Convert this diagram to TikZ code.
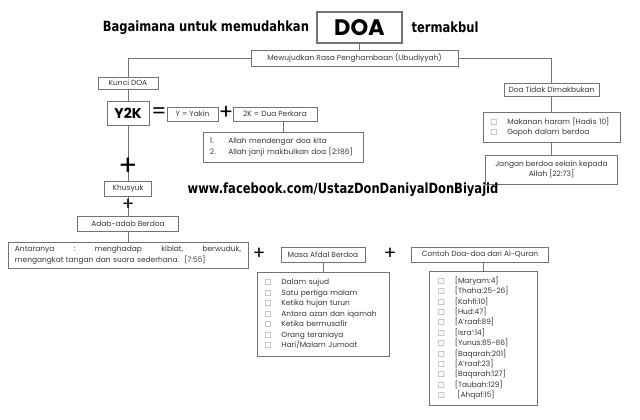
\documentclass[tikz,border=0pt]{standalone}
\usepackage{fontspec}
\setmainfont{Poppins}
\newfontfamily\headfont{DejaVu Sans}[FakeStretch=0.82]
\newfontfamily\boxfont{DejaVu Sans}
\usetikzlibrary{positioning}

\definecolor{linegray}{gray}{0.45}
\definecolor{textgray}{gray}{0.22}
\newcommand{\chk}{{\boxfont\color{gray}\char"25A1}\hspace{7pt}}
\newcommand{\nom}[1]{\makebox[13pt][l]{#1}}

\begin{document}
\begin{tikzpicture}[x=0.025cm,y=-0.025cm,font=\fontsize{5.3}{7.4}\selectfont,text=textgray]
\tikzstyle{box}=[draw=linegray,line width=0.5pt,inner sep=0pt,align=center]
\tikzstyle{link}=[draw=linegray,line width=0.5pt]
\tikzstyle{sign}=[inner sep=0pt,text=black]
\tikzstyle{head}=[inner sep=0pt,text=black,font=\headfont\bfseries\fontsize{10}{12}\selectfont]

\fill[white] (0,0) rectangle (640,420);
\useasboundingbox (0,0) rectangle (640,420);

% title row
\node[box,line width=0.8pt,minimum width=2.125cm,minimum height=0.775cm,text=black,
  font=\bfseries\fontsize{16}{16}\selectfont] (doa) at (359.5,27.5) {DOA};
\node[head,left=0.18cm of doa] (judul) {Bagaimana untuk memudahkan};
\node[head,right=0.22cm of doa] (makbul) {termakbul};

\node[box,minimum width=5.175cm,minimum height=0.4cm] (ubud) at (354.5,58) {Mewujudkan Rasa Penghambaan (Ubudiyyah)};
\node[box,minimum width=1.5cm,minimum height=0.3cm] (kunci) at (128,83) {Kunci DOA};
\node[box,minimum width=2.375cm,minimum height=0.325cm] (tidak) at (551.5,89.5) {Doa Tidak Dimakbukan};

% Y2K row
\node[box,minimum width=1.05cm,minimum height=0.6cm,text=black,
  font=\bfseries\fontsize{10}{10}\selectfont] (ytwok) at (128,113) {Y2K};
\node[sign,font=\fontsize{15}{15}\selectfont] (sama) at (159,113) {=};
\node[box,minimum width=1.275cm,minimum height=0.35cm] (yakin) at (192.5,114) {Y = Yakin};
\node[sign,font=\fontsize{15}{15}\selectfont] (tambah1) at (226,113) {+};
\node[box,minimum width=2.1cm,minimum height=0.35cm] (duak) at (275,114) {2K = Dua Perkara};
\node[box,minimum width=4cm,minimum height=0.75cm,text width=3.65cm,align=left] (duasenarai) at (283,147)
  {\nom{1.}Allah mendengar doa kita\\\nom{2.}Allah janji makbulkan doa [2:186]};

% right branch
\node[box,minimum width=3.425cm,minimum height=0.75cm,text width=3.05cm,align=left] (haram) at (551.5,127)
  {\chk Makanan haram [Hadis 10]\\\chk Gopoh dalam berdoa};
\node[box,minimum width=3.3cm,minimum height=0.725cm] (jangan) at (551.5,169.5)
  {Jangan berdoa selain kepada\\Allah [22:73]};

% left spine
\node[box,minimum width=1.175cm,minimum height=0.375cm] (khusyuk) at (128,188.5) {Khusyuk};
\node[head] (url) at (343,190) {www.facebook.com/UstazDonDaniyalDonBiyajid};
\node[box,minimum width=2.525cm,minimum height=0.375cm] (adab) at (128,223.5) {Adab-adab Berdoa};
\node[box,minimum width=6cm,minimum height=0.65cm,text width=5.65cm,align=left] (antara) at (128,255)
  {Antaranya\hfill:\hfill menghadap\hfill kiblat,\hfill berwuduk,\\mengangkat tangan dan suara sederhana.\ \ [7:55]};

% bottom row
\node[box,minimum width=2.1cm,minimum height=0.375cm] (afdal) at (323,254.5) {Masa Afdal Berdoa};
\node[box,minimum width=3.425cm,minimum height=0.375cm] (contoh) at (480,254.5) {Contoh Doa-doa dari Al-Quran};
\node[box,minimum width=3.3cm,minimum height=2.1cm,text width=2.92cm,align=left] (afdalsenarai) at (323,314)
  {\chk Dalam sujud\\\chk Satu pertiga malam\\\chk Ketika hujan turun\\\chk Antara azan dan iqamah\\
   \chk Ketika bermusafir\\\chk Orang teraniaya\\\chk Hari/Malam Jumoat};
\node[box,minimum width=2.7cm,minimum height=3.35cm,text width=2.25cm,align=left] (contohsenarai) at (483,338)
  {\chk [Maryam:4]\\\chk [Thaha:25-26]\\\chk [Kahfi:10]\\\chk [Hud:47]\\\chk [A'raaf:89]\\\chk [Isra':14]\\
   \chk [Yunus:85-86]\\\chk [Baqarah:201]\\\chk [A'raaf:23]\\\chk [Baqarah:127]\\\chk [Taubah:129]\\\chk\ [Ahqaf:15]};

% connectors
\draw[link] (doa.south) -- (doa.south |- ubud.north);
\draw[link] (ubud.west) -| (kunci.north);
\draw[link] (ubud.east) -| (tidak.north);
\draw[link] (kunci.south) -- (ytwok.north);
\draw[link] (ytwok.south) -- (khusyuk.north);
\draw[link] (khusyuk.south) -- (adab.north);
\draw[link] (adab.south) -- (antara.north);
\draw[link] (duasenarai.north) -- (duasenarai.north |- duak.south);
\draw[link] (tidak.south) -- (haram.north);
\draw[link] (haram.south) -- (jangan.north);
\draw[link] (afdal.south) -- (afdalsenarai.north);
\draw[link] (contohsenarai.north) -- (contohsenarai.north |- contoh.south);

% plus signs
\node[sign,font=\fontsize{20}{20}\selectfont] (tambah2) at (128,167) {+};
\node[sign,font=\fontsize{13}{13}\selectfont] (tambah3) at (128,205) {+};
\node[sign,font=\fontsize{13}{13}\selectfont] (tambah4) at (259,254) {+};
\node[sign,font=\fontsize{13}{13}\selectfont] (tambah5) at (390,254) {+};
\end{tikzpicture}
\end{document}
